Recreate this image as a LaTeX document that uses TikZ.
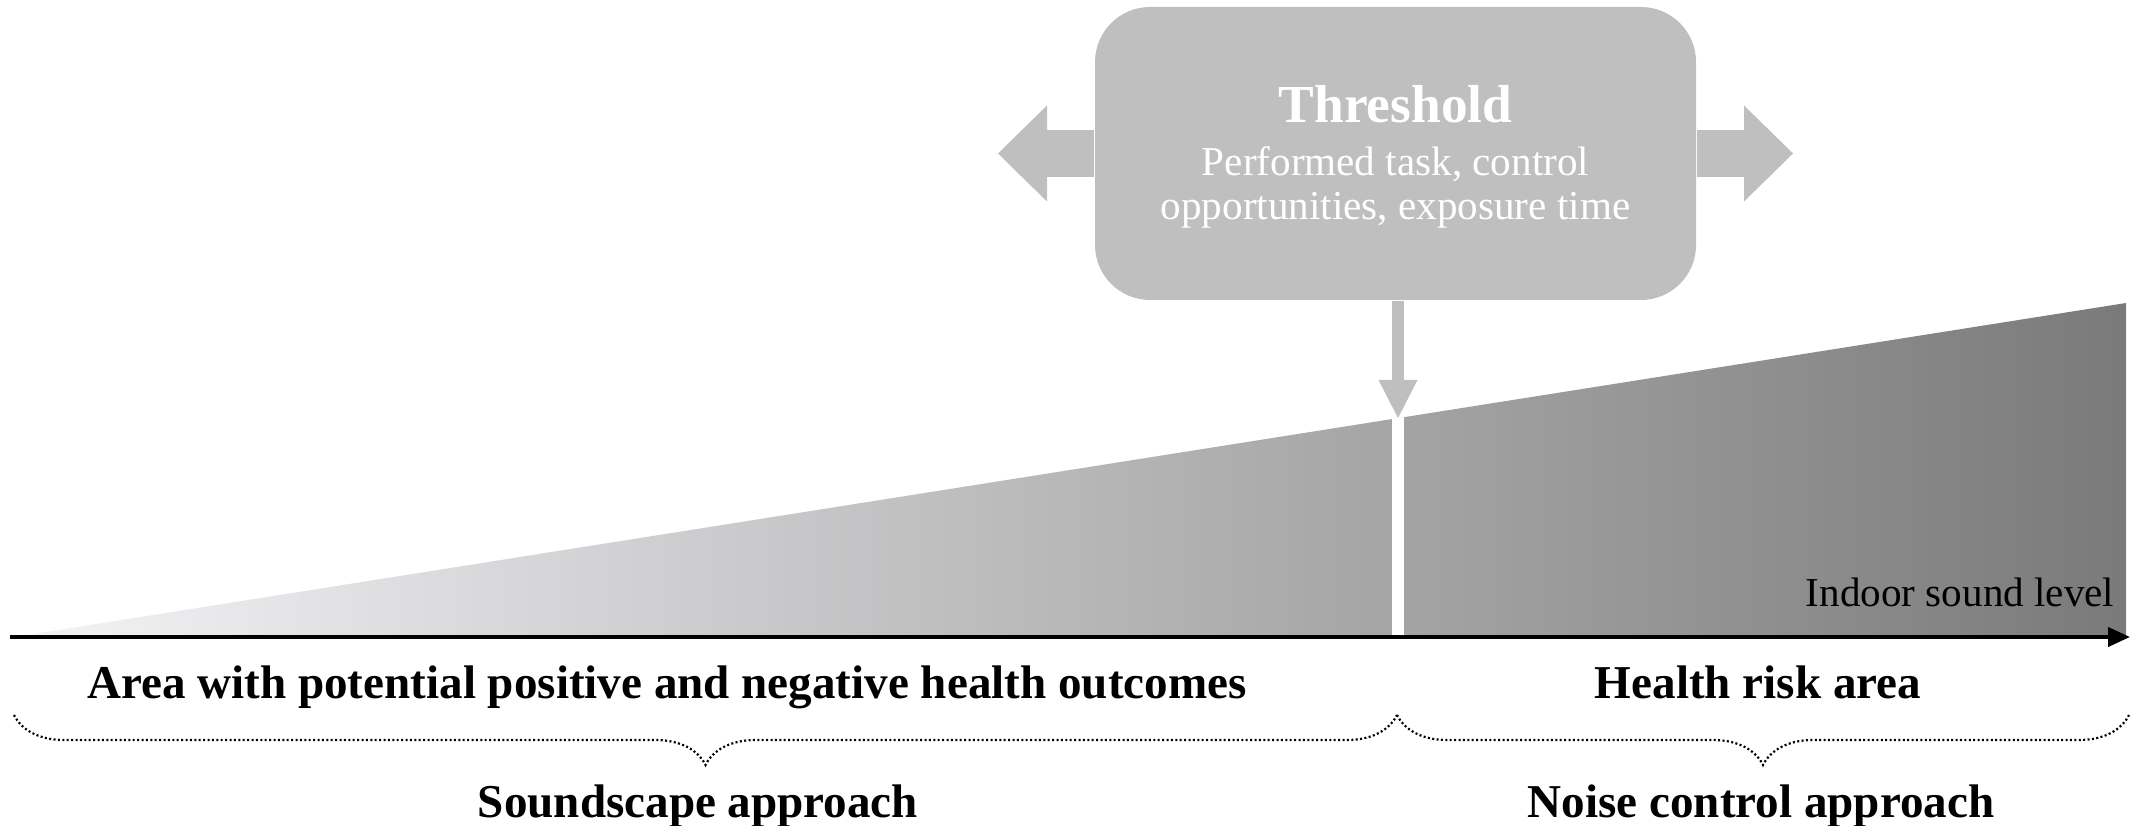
\documentclass[tikz,border=0pt]{standalone}
\usepackage{fontspec}
\setmainfont{Liberation Serif}
\usetikzlibrary{arrows.meta,decorations.pathreplacing,calc}
\definecolor{boxgray}{RGB}{191,191,191}
\definecolor{shadeL}{RGB}{244,244,247}
\definecolor{shadeR}{RGB}{122,122,122}
\begin{document}
\begin{tikzpicture}[x=0.1mm,y=-0.1mm,
  lbl/.style={font=\fontsize{13.4}{16}\selectfont\bfseries, inner sep=0pt},
  small/.style={font=\fontsize{11.7}{14}\selectfont, inner sep=0pt},
  wtxt/.style={text=white},
  brc/.style={decorate, decoration={brace, mirror, amplitude=5mm}, line width=0.22mm, dash pattern=on 0.2mm off 0.24mm},
  sidearrow/.style={boxgray, line width=4.7mm, -{Triangle[length=4.9mm,width=9.6mm,line width=0pt]}},
  downarrow/.style={boxgray, line width=1.2mm, -{Triangle[length=3.8mm,width=3.9mm,line width=0pt]}},
  ]
\useasboundingbox (0,0) rectangle (2141,826);
% gradient wedge
\shade[left color=shadeL, right color=shadeR] (14,637) -- (2126,303) -- (2126,637) -- cycle;
% white threshold split
\fill[white] (1392,416) rectangle (1404,637);
% threshold box
\node[fill=boxgray, rounded corners=5.5mm, minimum width=60.1mm, minimum height=29.3mm, inner sep=0pt] (thr) at (1395.5,153.5) {};
\coordinate (ltip) at (998,153.5);
\coordinate (rtip) at (1793,153.5);
\coordinate (thp) at (1398,418);
\draw[sidearrow] (thr.west) -- (ltip);
\draw[sidearrow] (thr.east) -- (rtip);
\draw[downarrow] (thr.south -| thp) -- (thp);
\node[anchor=base, wtxt, font=\fontsize{15.2}{18}\selectfont\bfseries, inner sep=0pt] (t0) at (1395.5,123) {Threshold};
\node[small, wtxt, anchor=base] (t1) at (1395.5,176) {Performed task, control};
\node[small, wtxt, anchor=base] (t2) at (1395.5,220) {opportunities, exposure time};
% axis
\coordinate (axL) at (10,637);
\coordinate (axR) at (2130,637);
\draw[line width=0.4mm, -{Triangle[length=2.2mm,width=1.9mm]}] (axL) -- (axR);
\node[small, anchor=base east] (isl) at (2115,607) {Indoor sound level};
% labels
\node[lbl, anchor=base] (a1) at (667,699) {Area with potential positive and negative health outcomes};
\node[lbl, anchor=base] (a2) at (1758,699) {Health risk area};
\node[lbl, anchor=base] (s1) at (698,817) {Soundscape approach};
\node[lbl, anchor=base] (s2) at (1761,817) {Noise control approach};
% braces
\coordinate (bL) at (14,715);
\coordinate (bM) at (1397,715);
\coordinate (bR) at (2129,715);
\draw[brc] (bL) -- (bM);
\draw[brc] (bM) -- (bR);
\end{tikzpicture}
\end{document}
